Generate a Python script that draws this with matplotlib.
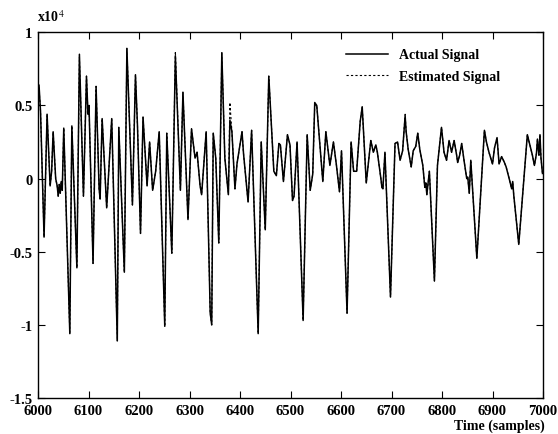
import matplotlib
matplotlib.use("Agg")
import matplotlib.pyplot as plt

# ---- data (units of 1e4) ----
samples = [6000, 6002, 6005, 6012, 6018, 6024, 6027, 6030, 6035, 6038, 6040, 6042, 6044, 6046, 6048,
           6051, 6063, 6067, 6077, 6082, 6090, 6096, 6099, 6101, 6109, 6115, 6121, 6123, 6127, 6136,
           6146, 6157, 6160, 6171, 6176, 6187, 6193, 6197, 6203, 6208, 6216, 6221, 6227, 6233, 6240,
           6251, 6255, 6265, 6272, 6282, 6287, 6297, 6304, 6311, 6315, 6321, 6324, 6333, 6341, 6344,
           6347, 6352, 6358, 6364, 6370, 6377, 6380, 6384, 6390, 6394, 6400, 6404, 6407, 6416, 6423,
           6436, 6442, 6450, 6457, 6467, 6472, 6477, 6480, 6486, 6494, 6499, 6504, 6507, 6513, 6525,
           6533, 6539, 6544, 6548, 6552, 6564, 6570, 6578, 6585, 6591, 6597, 6601, 6612, 6620, 6625,
           6631, 6638, 6642,
           6650, 6659, 6664, 6669, 6672, 6679, 6681, 6683, 6687, 6698, 6707, 6712, 6717, 6722, 6727,
           6729, 6733, 6739, 6743, 6748, 6752, 6756, 6762, 6766, 6768, 6770, 6775, 6785, 6791, 6799,
           6804, 6809, 6814, 6819, 6824, 6829, 6831, 6835, 6839, 6844, 6849, 6851, 6854, 6857, 6869,
           6884, 6888, 6893, 6900, 6904, 6909, 6913, 6918, 6923, 6927, 6933, 6938, 6940, 6942, 6952,
           6969, 6974, 6979, 6983, 6987, 6989, 6992, 6994, 6996, 6999]
actual = [0.55, 0.64, 0.46, -0.40, 0.44, -0.05, 0.05, 0.32, 0.00, -0.05, -0.12, -0.04, -0.10, -0.02, -0.08,
          0.345, -1.06, 0.36, -0.61, 0.85, -0.12, 0.70, 0.44, 0.50, -0.58, 0.63, -0.07, -0.14, 0.41, -0.20,
          0.41, -1.11, 0.35, -0.64, 0.89, -0.18, 0.71, 0.36, -0.375, 0.42, -0.05, 0.25, -0.08, 0.05, 0.32,
          -1.01, 0.31, -0.51, 0.84, -0.08, 0.59, -0.28, 0.34, 0.14, 0.18, -0.05, -0.11, 0.32, -0.92, -1.00,
          0.31, 0.14, -0.44, 0.86, 0.14, -0.11, 0.40, 0.32, -0.07, 0.10, 0.23, 0.32, 0.17, -0.16, 0.33,
          -1.06, 0.25, -0.35, 0.70, 0.05, 0.02, 0.24, 0.23, -0.02, 0.30, 0.23, -0.15, -0.12, 0.25, -0.97,
          0.30, -0.08, 0.03, 0.52, 0.50, -0.02, 0.32, 0.09, 0.25, 0.09, -0.09, 0.19, -0.92, 0.25, 0.05,
          0.05, 0.39, 0.49,
          -0.03, 0.26, 0.18, 0.23, 0.18, 0.00, -0.06, -0.07, 0.18, -0.81, 0.24, 0.25, 0.125, 0.19, 0.43,
          0.32, 0.20, 0.08, 0.19, 0.22, 0.31, 0.20, 0.09, -0.06, -0.03, -0.11, 0.05, -0.70, 0.09, 0.35,
          0.18, 0.125, 0.26, 0.18, 0.26, 0.16, 0.11, 0.16, 0.24, 0.115, 0.00, 0.01, -0.10, 0.125, -0.545,
          0.33, 0.25, 0.18, 0.10, 0.21, 0.28, 0.10, 0.15, 0.115, 0.08, 0.00, -0.07, -0.02, -0.11, -0.45,
          0.30, 0.23, 0.16, 0.09, 0.17, 0.27, 0.16, 0.30, 0.14, 0.035]
# estimated signal: same as actual except where the dashed trace visibly departs
est_overrides = {6002: 0.62, 6082: 0.83, 6272: 0.87, 6380: 0.52, 6548: 0.50, 6727: 0.44}
estimated = [est_overrides.get(s, v) for s, v in zip(samples, actual)]

xticks = [6000, 6100, 6200, 6300, 6400, 6500, 6600, 6700, 6800, 6900, 7000]
yticks = [-1.5, -1, -0.5, 0, 0.5, 1]
ytick_labels = ["-1.5", "-1", "-0.5", "0", "0.5", "1"]

plt.rcParams['font.family'] = ['Liberation Serif', 'DejaVu Serif']
plt.rcParams['mathtext.fontset'] = 'stix'

fig = plt.figure(figsize=(5.58, 4.35), dpi=100)
ax = fig.add_axes([38/558, 1-399/435, 505/558, (399-33.3)/435])

ax.plot(samples, actual, color='black', lw=1.1, label='Actual Signal')
ax.plot(samples, estimated, color='black', lw=0.8, ls=(0, (2, 2)), label='Estimated Signal')

ax.set_xlim(6000, 7000)
ax.set_ylim(-1.5, 1)
ax.set_xticks(xticks)
ax.set_xticklabels([str(t) for t in xticks])
ax.set_yticks(yticks)
ax.set_yticklabels(ytick_labels)
ax.tick_params(direction='in', length=5, width=0.8, top=True, right=True, labelsize=10.5, pad=4)
for lab in ax.get_xticklabels() + ax.get_yticklabels():
    lab.set_fontweight('bold')
for sp in ax.spines.values():
    sp.set_linewidth(1.0)

leg = ax.legend(loc='upper left', bbox_to_anchor=(0.585, 0.99), frameon=False,
                handlelength=3.0, handletextpad=0.8, labelspacing=0.6,
                prop={'family': 'Liberation Serif', 'weight': 'bold', 'size': 10})

fig.text(37/558, 1-22/435, r'x10$^{4}$', fontsize=10, fontweight='bold', ha='left', va='baseline')
fig.text(545/558, 1-430/435, 'Time (samples)', fontsize=10, fontweight='bold', ha='right', va='baseline')

fig.savefig('out.png', dpi=100)
